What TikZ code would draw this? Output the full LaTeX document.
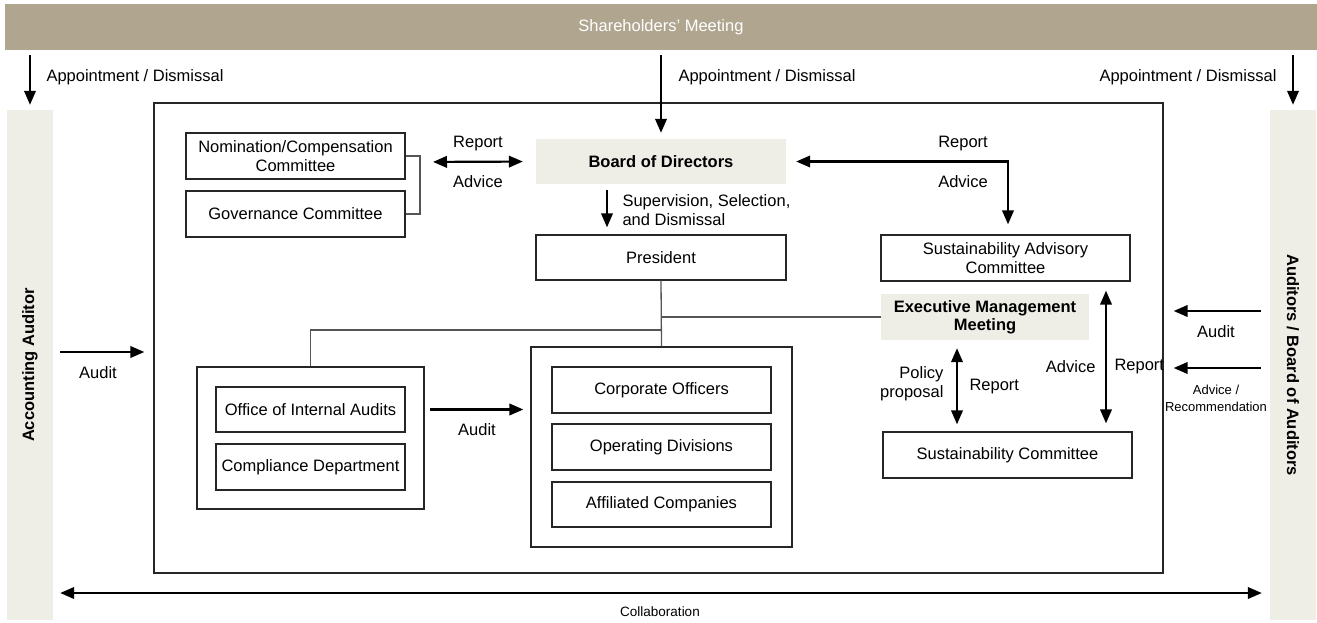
\documentclass[tikz,border=0pt]{standalone}
\usepackage{fontspec}
\setmainfont{Liberation Sans}
\usetikzlibrary{arrows.meta}
\definecolor{sandbar}{HTML}{B0A690}
\definecolor{pale}{HTML}{EEEDE6}
\definecolor{linegray}{HTML}{555555}
\begin{document}
\begin{tikzpicture}[x=1pt, y=-1pt,
  every node/.style={font=\fontsize{16.5}{19}\selectfont},
  box/.style={draw=black!85, line width=1.3pt, align=center, inner sep=0pt},
  hl/.style={fill=pale, align=center, inner sep=0pt, font=\fontsize{16.5}{18}\selectfont\bfseries},
  side/.style={fill=pale, inner sep=0pt, minimum width=510pt, minimum height=46pt, font=\fontsize{16.5}{19}\selectfont\bfseries},
  link/.style={draw=linegray, line width=1.3pt},
  arr/.style={line width=2.2pt, -{Triangle[length=14pt,width=11.5pt]}},
  darr/.style={line width=2.2pt, {Triangle[length=14pt,width=11.5pt]}-{Triangle[length=14pt,width=11.5pt]}}]
  \useasboundingbox (0,0) rectangle (1317,623);

  % Outer bars
  \node[fill=sandbar, text=white, minimum width=1312pt, minimum height=46pt] (sm) at (661,27) {Shareholders' Meeting};
  \node[side, rotate=90] (aa) at (30,365) {Accounting Auditor};
  \node[side, rotate=-90] (ab) at (1293,365) {Auditors / Board of Auditors};
  \node[box, minimum width=1009pt, minimum height=470pt] (main) at (658.5,338) {};

  % Committees and board
  \node[box, minimum width=219pt, minimum height=46pt] (nom) at (295.5,156) {Nomination/Compensation\\Committee};
  \node[box, minimum width=219pt, minimum height=46pt] (gov) at (295.5,214) {Governance Committee};
  \node[hl, minimum width=250pt, minimum height=45pt] (bod) at (661,161.5) {Board of Directors};
  \node[box, minimum width=250pt, minimum height=45pt] (pres) at (661,257.5) {President};
  \node[box, minimum width=249pt, minimum height=46pt] (sac) at (1005.5,258) {Sustainability Advisory\\Committee};
  \node[hl, minimum width=208pt, minimum height=46pt] (emm) at (985,317) {Executive Management\\Meeting};
  \node[box, minimum width=249pt, minimum height=46pt] (sc) at (1007.5,455) {Sustainability Committee};

  % Audit group
  \node[box, minimum width=227pt, minimum height=142pt] (iag) at (310.5,438) {};
  \node[box, minimum width=189pt, minimum height=45pt] (oia) at (310.5,409.5) {Office of Internal Audits};
  \node[box, minimum width=189pt, minimum height=46pt] (cd) at (310.5,467) {Compliance Department};

  % Operating group
  \node[box, minimum width=261pt, minimum height=200pt] (opg) at (661.5,447) {};
  \node[box, minimum width=219pt, minimum height=46pt] (co) at (661.5,390) {Corporate Officers};
  \node[box, minimum width=219pt, minimum height=46pt] (od) at (661.5,447) {Operating Divisions};
  \node[box, minimum width=219pt, minimum height=45pt] (afc) at (661.5,504.5) {Affiliated Companies};

  % Helper coordinates
  \coordinate (brk) at (420,162);
  \coordinate (sup) at (607,0);
  \coordinate (tj) at (661,330);
  \coordinate (pp) at (957,0);
  \coordinate (ar) at (1106,0);
  \coordinate (auL) at (0,352);
  \coordinate (auR) at (0,311);
  \coordinate (adR) at (0,368);
  \coordinate (col) at (0,593);

  % Appointment arrows
  \draw[arr, shorten <=5pt, shorten >=5pt] (sm.south -| aa) -- (aa.east);
  \draw[arr, shorten <=5pt, shorten >=6pt] (sm.south -| bod) -- (bod.north);
  \draw[arr, shorten <=5pt, shorten >=5pt] (sm.south -| ab) -- (ab.west);

  % Lines
  \draw[link] (nom.east) -| (brk) |- (gov.east);
  \draw[link] (pres.south) -- (opg.north);
  \draw[link] (pres.south |- emm.west) -- (emm.west);
  \draw[link] (tj) -| (iag.north);

  % Arrows
  \draw[darr, shorten <=13pt, shorten >=13pt] (brk) -- (bod.west);
  \draw[darr, shorten <=10pt, shorten >=10pt] (bod.east) -| (sac.north -| 1008,0);
  \draw[arr, shorten <=6pt, shorten >=7pt] (bod.south -| sup) -- (pres.north -| sup);
  \draw[arr, shorten <=5pt, shorten >=7pt] (iag.east |- oia) -- (opg.west |- oia);
  \draw[darr, shorten <=8pt, shorten >=7pt] (emm.south -| pp) -- (sc.north -| pp);
  \draw[darr, shorten <=9pt, shorten >=8pt] (sac.south -| ar) -- (sc.north -| ar);
  \draw[arr, shorten <=7pt, shorten >=9pt] (aa.south |- auL) -- (main.west |- auL);
  \draw[arr, shorten <=9pt, shorten >=10pt] (ab.south |- auR) -- (main.east |- auR);
  \draw[arr, shorten <=9pt, shorten >=10pt] (ab.south |- adR) -- (main.east |- adR);
  \draw[darr, shorten <=7pt, shorten >=8pt] (aa.south |- col) -- (ab.south |- col);

  % Labels
  \node[anchor=west] (apl) at (43,77) {Appointment / Dismissal};
  \node[anchor=west] (apm) at (675,77) {Appointment / Dismissal};
  \node[anchor=east] (apr) at (1280,77) {Appointment / Dismissal};
  \node (rp1) at (478,144) {Report};
  \node (ad1) at (478,182) {Advice};
  \node (rp2) at (963,144) {Report};
  \node (ad2) at (963,182) {Advice};
  \node[anchor=west, align=left] (sel) at (619,210) {Supervision, Selection,\\and Dismissal};
  \node (au1) at (477,430) {Audit};
  \node (au2) at (98,373) {Audit};
  \node[anchor=east, align=right] (pol) at (947,384) {Policy\\proposal};
  \node[anchor=west] (rp3) at (966,387) {Report};
  \node[anchor=east] (ad3) at (1099,367) {Advice};
  \node[anchor=west] (rp4) at (1111,367) {Report};
  \node (au3) at (1216,332) {Audit};
  \node[align=center, font=\fontsize{13}{17}\selectfont] (rec) at (1216,398) {Advice /\\Recommendation};
  \node[font=\fontsize{13.5}{16}\selectfont] (clb) at (660,612) {Collaboration};
\end{tikzpicture}
\end{document}
